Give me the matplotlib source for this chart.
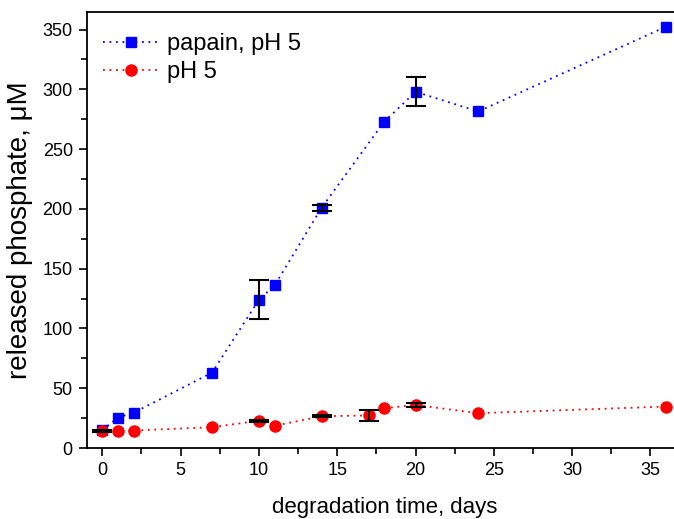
import matplotlib
matplotlib.use("Agg")
import matplotlib.pyplot as plt
from matplotlib.ticker import MultipleLocator

plt.rcParams['font.family'] = ['Liberation Sans', 'DejaVu Sans']

# papain, pH 5
dager_papain = [0, 1, 2, 7, 10, 11, 14, 18, 20, 24, 36]
fosfat_papain = [15, 25.5, 29.5, 63, 124, 136, 201, 273, 298, 281.5, 352.5]
feil_papain = [0, 0, 0, 0, 16.5, 0, 2.5, 0, 12, 0, 0]

# pH 5
dager_ph5 = [0, 1, 2, 7, 10, 11, 14, 17, 18, 20, 24, 36]
fosfat_ph5 = [14, 14, 14.6, 17.4, 22.8, 18.6, 26.6, 27.2, 33.3, 36, 29.1, 34.7]
feil_ph5 = [1, 0, 0, 0, 1, 0, 1, 4.2, 0, 2, 0, 0]

fig = plt.figure(figsize=(6.74, 5.19), dpi=100)
ax = fig.add_axes([0.1286, 0.1368, 0.883, 0.8407])

ax.plot(dager_papain, fosfat_papain, ls=(0, (1, 2.6)), lw=1.3, color=(0, 0, 1),
        marker="s", ms=7, mec=(0, 0, 1), mfc=(0, 0, 1), label="papain, pH 5", zorder=3)
ax.plot(dager_ph5, fosfat_ph5, ls=(0, (1, 2.6)), lw=1.3, color=(1, 0, 0),
        marker="o", ms=8, mec=(1, 0, 0), mfc=(1, 0, 0), label="pH 5", zorder=3)

# feilstolper
for x, y, e in zip(dager_papain, fosfat_papain, feil_papain):
    if e > 0:
        ax.errorbar(x, y, yerr=e, fmt="none", ecolor="black", elinewidth=1.5,
                    capsize=7, capthick=1.5, zorder=4)
for x, y, e in zip(dager_ph5, fosfat_ph5, feil_ph5):
    if e > 0:
        ax.errorbar(x, y, yerr=e, fmt="none", ecolor="black", elinewidth=1.5,
                    capsize=7, capthick=1.5, zorder=4)

ax.set_xlim(-1, 37)
ax.set_ylim(0, 365)
ax.xaxis.set_major_locator(MultipleLocator(5))
ax.xaxis.set_minor_locator(MultipleLocator(2.5))
ax.yaxis.set_major_locator(MultipleLocator(50))
ax.yaxis.set_minor_locator(MultipleLocator(25))
ax.tick_params(which="major", direction="out", length=6, width=1.2, labelsize=13, pad=4)
ax.tick_params(which="minor", direction="out", length=4, width=1.2)
for s in ax.spines.values():
    s.set_linewidth(1.3)

ax.set_xlabel("degradation time, days", fontsize=16, labelpad=13)
ax.set_ylabel("released phosphate, \u03bcM", fontsize=20, labelpad=7)

ax.legend(loc="upper left", bbox_to_anchor=(0, 0.988), frameon=False, fontsize=17,
          handlelength=2.35, handletextpad=0.35, borderaxespad=0.3, labelspacing=0.25)

fig.savefig("out.png", dpi=100)
